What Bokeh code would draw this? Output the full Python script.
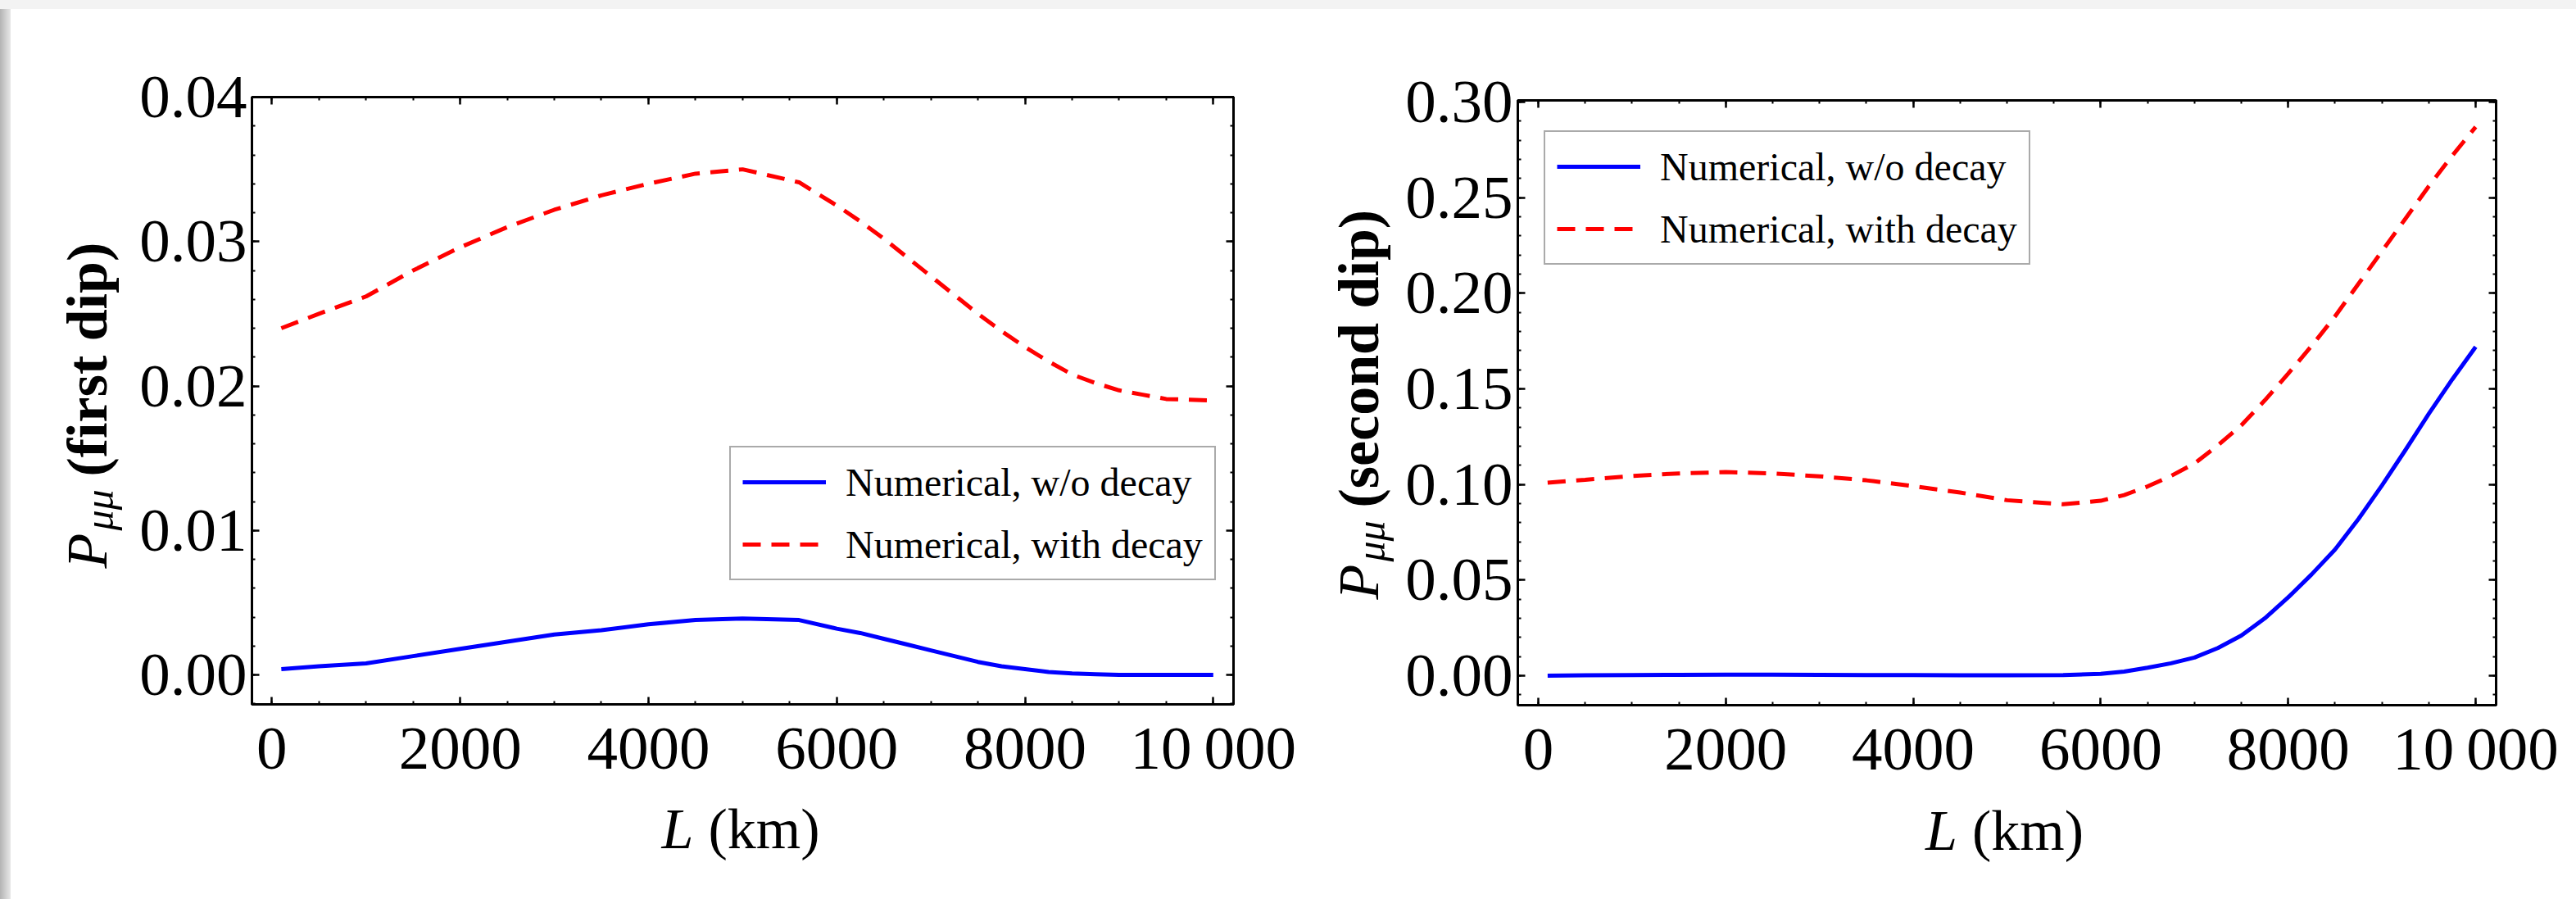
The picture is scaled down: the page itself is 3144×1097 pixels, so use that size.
import math
from bokeh.plotting import figure
from bokeh.models import Range1d, FixedTicker, LinearAxis, Legend, LegendItem, Div
from bokeh.layouts import row, column
from bokeh.core.properties import value
from bokeh.embed import file_html
from bokeh.resources import INLINE

# ---------------- data ----------------
L_km = [100, 500, 1000, 1500, 2000, 2500, 3000, 3500, 4000, 4500, 5000,
        5600, 6000, 6250, 6500, 6750, 7000, 7250, 7500, 7750, 8000,
        8250, 8500, 8750, 9000, 9250, 9500, 9750, 10000]

first_dip_wo_decay = [0.0004, 0.0006, 0.0008, 0.0013, 0.0018, 0.0023, 0.0028, 0.0031,
                      0.0035, 0.0038, 0.0039, 0.0038, 0.0032, 0.0029, 0.0025, 0.0021,
                      0.0017, 0.0013, 0.0009, 0.0006, 0.0004, 0.0002, 0.0001, 0.00005,
                      0.0000, 0.0000, 0.0000, 0.0000, 0.0000]
first_dip_with_decay = [0.0240, 0.0250, 0.0262, 0.0280, 0.0296, 0.0310, 0.0322, 0.0332,
                        0.0340, 0.0347, 0.0350, 0.0341, 0.0325, 0.0314, 0.0302, 0.0289,
                        0.0276, 0.0263, 0.0250, 0.0238, 0.0227, 0.0217, 0.0208, 0.0202,
                        0.0197, 0.0194, 0.0191, 0.01905, 0.0190]

second_dip_wo_decay = [0.0000, 0.0002, 0.0004, 0.0005, 0.0006, 0.0006, 0.0005, 0.0004,
                       0.0003, 0.0002, 0.0002, 0.0004, 0.0010, 0.0022, 0.0042, 0.0065,
                       0.0095, 0.0145, 0.0210, 0.0300, 0.0410, 0.0530, 0.0660, 0.0820,
                       0.0995, 0.1180, 0.1370, 0.1550, 0.1720]
second_dip_with_decay = [0.1010, 0.1025, 0.1045, 0.1058, 0.1065, 0.1058, 0.1043, 0.1022,
                         0.0992, 0.0958, 0.0918, 0.0897, 0.0915, 0.0945, 0.0990, 0.1045,
                         0.1110, 0.1205, 0.1310, 0.1440, 0.1580, 0.1725, 0.1880, 0.2050,
                         0.2220, 0.2390, 0.2560, 0.2720, 0.2870]

legend_labels = ["Numerical, w/o decay", "Numerical, with decay"]
y_titles = ["(first dip)", "(second dip)"]

x_ticks = [0, 2000, 4000, 6000, 8000, 10000]
x_tick_labels = ["0", "2000", "4000", "6000", "8000", "10\u2009000"]
x_minor = [500 * i for i in range(21)]

first_y_ticks = [0.0, 0.01, 0.02, 0.03, 0.04]
first_y_labels = ["0.00", "0.01", "0.02", "0.03", "0.04"]
first_y_minor = [round(-0.002 + 0.002 * i, 3) for i in range(22)]

second_y_ticks = [0.0, 0.05, 0.10, 0.15, 0.20, 0.25, 0.30]
second_y_labels = ["0.00", "0.05", "0.10", "0.15", "0.20", "0.25", "0.30"]
second_y_minor = [round(-0.01 + 0.01 * i, 2) for i in range(32)]

SERIF = "Liberation Serif"
BLUE = "#0000ff"
RED = "#ff0000"
TOP_BAND = 11
SHADOW_W = 13
ROW_H = 1086
PLOT_H = 954
XLAB_H = ROW_H - PLOT_H


def style_axis(ax, show):
    ax.axis_line_width = 3
    ax.axis_line_color = "black"
    ax.major_tick_in = 9
    ax.major_tick_out = 0
    ax.minor_tick_in = 4
    ax.minor_tick_out = 0
    ax.major_tick_line_width = 2.5
    ax.minor_tick_line_width = 2
    ax.major_tick_line_color = "black"
    ax.minor_tick_line_color = "black"
    ax.major_label_text_font = SERIF
    if show:
        ax.major_label_text_font_size = "75px"
        ax.major_label_text_color = "black"
    else:
        ax.major_label_text_font_size = "1px"
        ax.major_label_text_alpha = 0


def make_panel(width, mb, x_range, y_range, y_ticks, y_labels, y_minor,
               wo, wd, legend_loc):
    p = figure(width=width, height=PLOT_H, output_backend="svg", toolbar_location=None,
               x_range=Range1d(*x_range), y_range=Range1d(*y_range),
               min_border_left=mb[0], min_border_right=mb[1],
               min_border_top=mb[2], min_border_bottom=mb[3],
               x_axis_type=None, y_axis_type=None)
    p.background_fill_color = "white"
    p.border_fill_color = "white"
    p.outline_line_color = "black"
    p.outline_line_width = 3

    xt = FixedTicker(ticks=x_ticks, minor_ticks=x_minor)
    yt = FixedTicker(ticks=y_ticks, minor_ticks=y_minor)

    xb = LinearAxis(ticker=xt)
    style_axis(xb, True)
    xb.major_label_standoff = 11
    xb.major_label_overrides = dict(zip(x_ticks, x_tick_labels))
    p.add_layout(xb, "below")
    xa = LinearAxis(ticker=xt)
    style_axis(xa, False)
    p.add_layout(xa, "above")

    yl = LinearAxis(ticker=yt)
    style_axis(yl, True)
    yl.major_label_standoff = 6
    yl.major_label_overrides = dict(zip(y_ticks, y_labels))
    p.add_layout(yl, "left")
    yr = LinearAxis(ticker=yt)
    style_axis(yr, False)
    p.add_layout(yr, "right")

    r1 = p.line(L_km, wo, line_color=BLUE, line_width=5, line_join="round")
    r2 = p.line(L_km, wd, line_color=RED, line_width=5, line_dash="22 13")

    leg = Legend(items=[LegendItem(label=legend_labels[0], renderers=[r1]),
                        LegendItem(label=legend_labels[1], renderers=[r2])],
                 location=legend_loc)
    leg.label_text_font = SERIF
    leg.label_text_font_size = "48px"
    leg.label_text_color = "black"
    leg.glyph_width = 102
    leg.glyph_height = 56
    leg.label_height = 56
    leg.label_standoff = 24
    leg.padding = 14
    leg.spacing = 20
    leg.margin = 0
    leg.border_line_color = "#555555"
    leg.border_line_width = 2
    leg.background_fill_color = "white"
    leg.background_fill_alpha = 1
    p.add_layout(leg)
    return p


def text_fig(width, height, items, x_range=None):
    """A bare canvas that holds title texts (y: 1 unit = 1 pixel)."""
    xr = x_range if x_range is not None else Range1d(0, width)
    f = figure(width=width, height=height, output_backend="svg", toolbar_location=None,
               x_range=xr, y_range=Range1d(0, height),
               min_border=0, x_axis_type=None, y_axis_type=None)
    f.outline_line_color = None
    f.background_fill_color = "white"
    f.border_fill_color = "white"
    for (x, y, txt, size, style, angle) in items:
        f.text(x=[x], y=[y], text=[txt], angle=angle,
               text_font=value(SERIF), text_font_size=value(size),
               text_font_style=value(style), text_align=value("left"),
               text_baseline=value("alphabetic"), text_color="black")
    return f


def y_title_items(bx, by, title):
    up = math.pi / 2
    return [(bx, by, "P", "70px", "italic", up),
            (bx + 14, by + 46, "\u03bc\u03bc", "50px", "italic", up),
            (bx, by + 112, title, "70px", "bold", up)]


def x_title_items(l_km, km_km, y):
    return [(l_km, y, "L", "70px", "italic", 0.0),
            (km_km, y, "(km)", "70px", "normal", 0.0)]


# left panel: page x 160..1590, right panel: page x 1712..3144
P1_W, P2_W = 1430, 1432
YL1_W = 160 - SHADOW_W
YL2_W = 1712 - 1590

p1 = make_panel(P1_W, (147, 85, 107, 106), (-212, 10215), (-0.00204, 0.0400),
                first_y_ticks, first_y_labels, first_y_minor,
                first_dip_wo_decay, first_dip_with_decay, (583, 151))
p2 = make_panel(P2_W, (139, 98, 111, 105), (-218, 10218), (-0.0154, 0.3009),
                second_y_ticks, second_y_labels, second_y_minor,
                second_dip_wo_decay, second_dip_with_decay, (32, 537))

ylab1 = text_fig(YL1_W, ROW_H, y_title_items(93, 404, y_titles[0]))
ylab2 = text_fig(YL2_W, ROW_H, y_title_items(68, 366, y_titles[1]))
# x titles share the panel's x range (their frames line up with the panel frames)
xlab1 = text_fig(P1_W, XLAB_H, x_title_items(4140, 4636, 86), x_range=p1.x_range)
xlab2 = text_fig(P2_W, XLAB_H, x_title_items(4131, 4629, 84), x_range=p2.x_range)

top_band = Div(text="", width=3144, height=TOP_BAND, margin=0,
               styles={"background-color": "#f3f3f3"})
shadow = Div(text="", width=SHADOW_W, height=ROW_H, margin=0,
             styles={"background": "linear-gradient(to right, #b4b4b4, #e8e8e8)"})

layout = column(top_band,
                row(shadow, ylab1, column(p1, xlab1, spacing=0),
                    ylab2, column(p2, xlab2, spacing=0), spacing=0),
                spacing=0)

open("out.html", "w").write(file_html(layout, INLINE, title="P_mumu vs L"))
